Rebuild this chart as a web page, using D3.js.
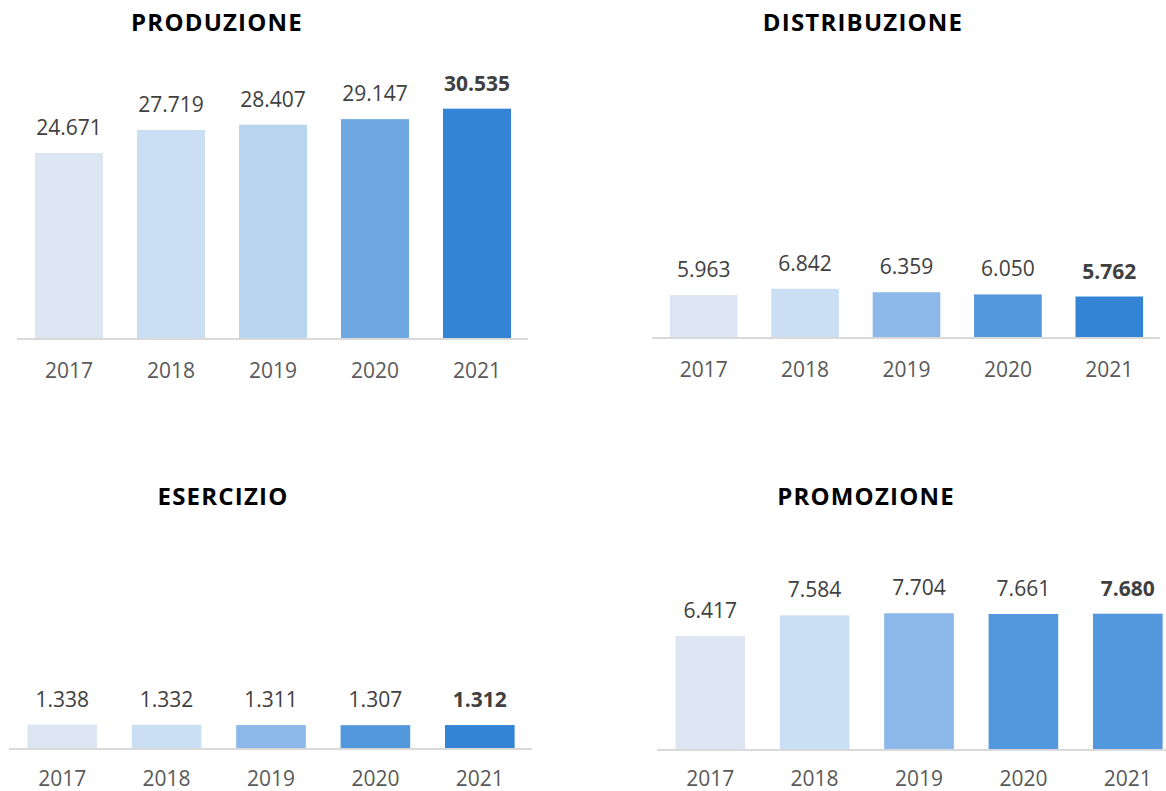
<!DOCTYPE html>
<html>
<head>
<meta charset="utf-8">
<script src="https://cdn.jsdelivr.net/npm/d3@7"></script>
<style>
  body { margin: 0; background: #fff; }
  svg { display: block; font-family: "Open Sans", sans-serif; }
  .title { font-size: 24px; font-weight: 700; fill: #000; letter-spacing: 1.2px; }
  .value { font-size: 21px; fill: #404040; }
  .value.last { font-weight: 700; }
  .year { font-size: 21px; fill: #595959; }
</style>
</head>
<body>
<div id="chart"></div>
<script>
// data (thousands)
var years = ['2017', '2018', '2019', '2020', '2021'];
var titles = ['PRODUZIONE', 'DISTRIBUZIONE', 'ESERCIZIO', 'PROMOZIONE'];
var produzione = [24671, 27719, 28407, 29147, 30535];
var distribuzione = [5963, 6842, 6359, 6050, 5762];
var esercizio = [1338, 1332, 1311, 1307, 1312];
var promozione = [6417, 7584, 7704, 7661, 7680];

var width = 1166, height = 791;

var it = d3.formatLocale({decimal: ',', thousands: '.', grouping: [3], currency: ['€', '']});
var fmt = it.format(',d');

var light = ['#dce6f2', '#cadff3'];
var panels = [
    {title: titles[0], values: produzione, x0: 18, x1: 528, base: 339, yMax: 35000, h: 264, tx: 217, ty: 31, yearDy: 39,
     colors: light.concat(['#b8d4ef', '#6fa8e0', '#3384d4'])},
    {title: titles[1], values: distribuzione, x0: 653, x1: 1160, base: 338, yMax: 35000, h: 252, tx: 863, ty: 31, yearDy: 39,
     colors: light.concat(['#8bb8e8', '#5397dc', '#3384d4'])},
    {title: titles[2], values: esercizio, x0: 10, x1: 532, base: 749, yMax: 8000, h: 146, tx: 223, ty: 505, yearDy: 37,
     colors: light.concat(['#8bb8e8', '#5397dc', '#3384d4'])},
    {title: titles[3], values: promozione, x0: 658, x1: 1180, base: 750, yMax: 8000, h: 142, tx: 866, ty: 505, yearDy: 36,
     colors: light.concat(['#8bb8e8', '#5397dc', '#5397dc'])}
];

var svg = d3.select('#chart')
    .append('svg')
    .attr('width', width)
    .attr('height', height);

panels.forEach(function (p) {
    var x = d3.scaleBand()
        .domain(years)
        .range([p.x0, p.x1])
        .paddingInner(0.333)
        .paddingOuter(0.1667);

    var y = d3.scaleLinear()
        .domain([0, p.yMax])
        .range([p.base, p.base - p.h]);

    var g = svg.append('g');

    g.append('text')
        .attr('class', 'title')
        .attr('x', p.tx)
        .attr('y', p.ty)
        .attr('text-anchor', 'middle')
        .text(p.title);

    var data = years.map(function (yr, i) {
        return {year: yr, value: p.values[i], i: i};
    });

    g.selectAll('.bar')
        .data(data)
        .enter().append('rect')
        .attr('class', 'bar')
        .attr('x', function (d) { return x(d.year); })
        .attr('width', x.bandwidth())
        .attr('y', function (d) { return y(d.value); })
        .attr('height', function (d) { return y(0) - y(d.value); })
        .attr('fill', function (d) { return p.colors[d.i]; });

    // baseline
    g.append('line')
        .attr('x1', p.x0 - 1)
        .attr('x2', p.x1)
        .attr('y1', y(0))
        .attr('y2', y(0))
        .attr('stroke', '#d9d9d9')
        .attr('stroke-width', 2);

    g.selectAll('.value')
        .data(data)
        .enter().append('text')
        .attr('class', function (d) { return d.i === years.length - 1 ? 'value last' : 'value'; })
        .attr('x', function (d) { return x(d.year) + x.bandwidth() / 2; })
        .attr('y', function (d) { return y(d.value) - 18; })
        .attr('text-anchor', 'middle')
        .text(function (d) { return fmt(d.value); });

    g.selectAll('.year')
        .data(data)
        .enter().append('text')
        .attr('class', 'year')
        .attr('x', function (d) { return x(d.year) + x.bandwidth() / 2; })
        .attr('y', y(0) + p.yearDy)
        .attr('text-anchor', 'middle')
        .text(function (d) { return d.year; });
});
</script>
</body>
</html>
